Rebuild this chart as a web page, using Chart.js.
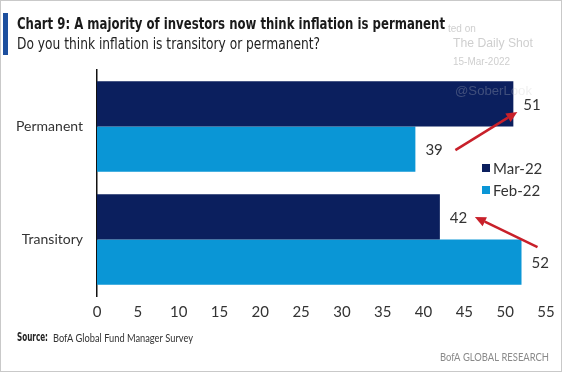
<!DOCTYPE html>
<html>
<head>
<meta charset="utf-8">
<script src="https://cdn.jsdelivr.net/npm/chart.js@4/dist/chart.umd.min.js"></script>
<style>
html,body{margin:0;padding:0;background:#fff;overflow:hidden;}
#c{display:block;}
</style>
</head>
<body>
<canvas id="c" width="564" height="373"></canvas>
<script>
// ---- data ----
const categories = ['Permanent', 'Transitory'];
const seriesNames = ['Mar-22', 'Feb-22'];
const mar22 = [51, 42];
const feb22 = [39, 52];
const xMin = 0, xMax = 55, xStep = 5;

const titleText = 'Chart 9: A majority of investors now think inflation is permanent';
const subtitleText = 'Do you think inflation is transitory or permanent?';
const sourceLabel = 'Source:';
const sourceText = 'BofA Global Fund Manager Survey';
const brandText = 'BofA GLOBAL RESEARCH';
const watermark = ['ted on', 'The Daily Shot', '15-Mar-2022', '@SoberLook'];

const NAVY = '#0b1f5e';
const LIGHT = '#0a96d6';
const TXT = '#333333';
const FONT = 'Lato, "Open Sans", "Noto Sans", sans-serif';
const NARROW = '"Liberation Sans Narrow", "DejaVu Sans Condensed", Lato, sans-serif';

function fitText(ctx, text, x, y, width) {
  const w = ctx.measureText(text).width;
  ctx.save();
  ctx.translate(x, y);
  ctx.scale(width / w, 1);
  ctx.fillText(text, 0, 0);
  ctx.restore();
}

const decor = {
  id: 'decor',
  beforeDraw(chart) {
    const ctx = chart.ctx;
    ctx.save();
    ctx.fillStyle = '#fff';
    ctx.fillRect(0, 0, chart.width, chart.height);
    // frame
    ctx.strokeStyle = '#c9c9c9';
    ctx.lineWidth = 1;
    ctx.strokeRect(0.5, 0.5, chart.width - 3, chart.height - 2);
    // accent bar
    ctx.fillStyle = '#1d4f9e';
    ctx.fillRect(3, 13, 5, 42);
    // watermark
    ctx.fillStyle = '#cfcfcf';
    ctx.textBaseline = 'middle';
    ctx.textAlign = 'left';
    ctx.font = '10px "Liberation Sans", Arial, sans-serif';
    ctx.fillText(watermark[0], 448, 29);
    ctx.font = '13px "Liberation Sans", Arial, sans-serif';
    fitText(ctx, watermark[1], 453, 43, 80);
    ctx.font = '10px "Liberation Sans", Arial, sans-serif';
    fitText(ctx, watermark[2], 453, 62, 57);
    ctx.restore();
  },
  afterDatasetsDraw(chart) {
    const ctx = chart.ctx;
    ctx.save();
    // faint watermark over bar
    ctx.fillStyle = 'rgba(200,200,200,0.28)';
    ctx.font = '12px "Liberation Sans", Arial, sans-serif';
    ctx.textBaseline = 'middle';
    fitText(ctx, watermark[3], 455, 92, 77);

    // data labels
    ctx.fillStyle = TXT;
    ctx.font = '15px ' + FONT;
    ctx.textAlign = 'left';
    ctx.textBaseline = 'middle';
    chart.data.datasets.forEach((ds, i) => {
      const meta = chart.getDatasetMeta(i);
      meta.data.forEach((bar, j) => {
        ctx.fillText(String(ds.data[j]), bar.x + 10, bar.y + 1);
      });
    });

    // arrows anchored to bars
    const m0 = chart.getDatasetMeta(0).data; // Mar
    const m1 = chart.getDatasetMeta(1).data; // Feb
    const arrows = [
      [m1[0].x + 40, m1[0].y + 1, m0[0].x + 4, m0[0].y + 8],
      [m1[1].x + 16, m1[1].y - 15, m0[1].x + 35, m0[1].y]
    ];
    ctx.strokeStyle = '#c8202a';
    ctx.fillStyle = '#c8202a';
    ctx.lineWidth = 2.5;
    arrows.forEach(([x1, y1, x2, y2]) => {
      const a = Math.atan2(y2 - y1, x2 - x1);
      const hl = 11, hw = 5;
      const bx = x2 - hl * Math.cos(a), by = y2 - hl * Math.sin(a);
      ctx.beginPath();
      ctx.moveTo(x1, y1);
      ctx.lineTo(bx, by);
      ctx.stroke();
      ctx.beginPath();
      ctx.moveTo(x2, y2);
      ctx.lineTo(bx + hw * Math.sin(a), by - hw * Math.cos(a));
      ctx.lineTo(bx - hw * Math.sin(a), by + hw * Math.cos(a));
      ctx.closePath();
      ctx.fill();
    });

    // legend
    ctx.font = '15px ' + FONT;
    chart.data.datasets.forEach((ds, i) => {
      const y = 168 + i * 22;
      ctx.fillStyle = ds.backgroundColor;
      ctx.fillRect(482, y - 4, 8, 8);
      ctx.fillStyle = TXT;
      ctx.fillText(ds.label, 493, y + 1);
    });
    ctx.restore();
  },
  afterDraw(chart) {
    const ctx = chart.ctx;
    ctx.save();
    ctx.textAlign = 'left';
    ctx.textBaseline = 'alphabetic';
    ctx.fillStyle = '#1a1a1a';
    ctx.font = 'bold 16px ' + NARROW;
    fitText(ctx, titleText, 17, 29, 428);
    ctx.fillStyle = '#222';
    ctx.font = '15px ' + NARROW;
    fitText(ctx, subtitleText, 17, 49, 303);
    // footer
    ctx.textBaseline = 'middle';
    ctx.fillStyle = '#222';
    ctx.font = 'bold 12px ' + NARROW;
    fitText(ctx, sourceLabel, 17, 338, 31);
    ctx.font = '12px ' + FONT;
    ctx.fillStyle = '#333';
    fitText(ctx, sourceText, 53, 338, 140);
    ctx.fillStyle = '#8a8a8a';
    ctx.font = '11px ' + FONT;
    fitText(ctx, brandText, 440, 357, 109);
    ctx.restore();
  }
};

new Chart(document.getElementById('c'), {
  type: 'bar',
  data: {
    labels: categories,
    datasets: [
      { label: seriesNames[0], data: mar22, backgroundColor: NAVY },
      { label: seriesNames[1], data: feb22, backgroundColor: LIGHT }
    ]
  },
  options: {
    indexAxis: 'y',
    responsive: false,
    devicePixelRatio: 1,
    animation: false,
    datasets: { bar: { categoryPercentage: 0.8, barPercentage: 1.0 } },
    layout: { padding: { left: 0, right: 18, top: 70, bottom: 47 } },
    plugins: { legend: { display: false }, tooltip: { enabled: false }, title: { display: false } },
    scales: {
      x: {
        min: xMin, max: xMax,
        ticks: { stepSize: xStep, color: TXT, font: { family: FONT, size: 15 }, padding: 7 },
        grid: { display: false, drawTicks: false },
        border: { display: false },
        afterFit(s) { s.height = 30; }
      },
      y: {
        ticks: { color: TXT, font: { family: FONT, size: 14 }, padding: 14 },
        grid: { display: false, drawTicks: false },
        border: { display: true, color: '#111', width: 1.5 },
        afterFit(s) { s.width = 97; }
      }
    }
  },
  plugins: [decor]
});
</script>
</body>
</html>
